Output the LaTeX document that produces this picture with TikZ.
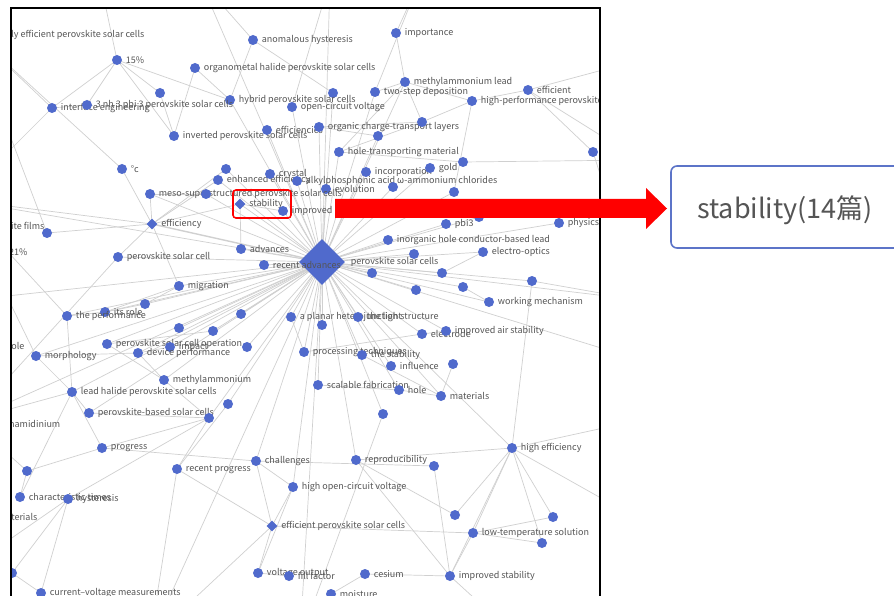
\documentclass[tikz,border=0pt]{standalone}
\usepackage{fontspec}
\setmainfont{Noto Sans CJK SC}
\usetikzlibrary{shapes.geometric}
\pgfdeclarelayer{bg}
\pgfsetlayers{bg,main}
\definecolor{nblue}{RGB}{80,106,204}
\definecolor{egray}{RGB}{208,208,208}
\definecolor{tgray}{RGB}{85,85,85}
\definecolor{bblue}{RGB}{92,116,200}
\tikzset{
 dot/.style={circle,fill=nblue,inner sep=0pt,minimum size=10pt},
 sdia/.style={diamond,fill=nblue,inner sep=0pt,minimum width=11pt,minimum height=11pt},
 lbl/.style={text=tgray,font=\fontsize{9}{10}\selectfont,inner sep=0.5pt},
 ed/.style={draw=egray,line width=0.7pt},
 boxst/.style={draw=bblue,line width=1.6pt,rounded corners=6pt,fill=white},
}
\newcommand{\nd}[4]{\node[dot,label={[lbl,label distance=3pt]right:{#4}}] (#1) at (#2,#3) {};}
\newcommand{\ud}[3]{\node[dot] (#1) at (#2,#3) {};}
\begin{document}
\begin{tikzpicture}[x=1pt,y=-1pt]
\useasboundingbox (0,0) rectangle (894,596);
\begin{scope}
\clip (12,8) rectangle (600,600);
% off-frame coordinates
\coordinate (o1) at (-30,30);
\coordinate (o2) at (-40,200);
\coordinate (o3) at (-30,420);
\coordinate (o4) at (640,60);
\coordinate (o5) at (640,300);
\coordinate (o6) at (640,420);
\coordinate (o7) at (200,-20);
\coordinate (o8) at (330,-20);
\coordinate (o9) at (420,-20);
\coordinate (o10) at (-20,560);
\coordinate (o11) at (300,640);
\coordinate (o12) at (150,640);
\coordinate (o13) at (640,520);
\coordinate (o14) at (520,640);
\coordinate (o15) at (640,160);
\coordinate (o16) at (-30,300);
\coordinate (o17) at (640,360);
\coordinate (o18) at (100,-20);
% hub
\node[diamond,fill=nblue,inner sep=0pt,minimum width=46pt,minimum height=46pt,
  label={[lbl,label distance=5pt]right:perovskite solar cells}] (P) at (322,262) {};
\node[dot,label={[lbl,label distance=3pt]right:recent advances}] (rad) at (264,265) {};
% small diamonds
\node[sdia,label={[lbl,label distance=3pt]right:stability}] (stab) at (240,204) {};
\node[sdia,label={[lbl,label distance=3pt]right:efficiency}] (eff) at (152,224) {};
\node[sdia,label={[lbl,label distance=3pt]right:efficient perovskite solar cells}] (eps) at (272,526) {};
% clipped text-only labels
\node[lbl,anchor=east] (t1) at (145,35) {highly efficient perovskite solar cells};
\node[lbl,anchor=east] (t2) at (45,227) {perovskite films};
\node[lbl,anchor=east] (t3) at (28,252) {21\%};
\node[lbl,anchor=east] (t4) at (25,346) {the role};
\node[lbl,anchor=east] (t5) at (61,424) {formamidinium};
\node[lbl,anchor=east] (t6) at (38,517) {materials};
% dots
\nd{p15}{117}{60}{15\%}
\nd{ahy}{253}{40}{anomalous hysteresis}
\nd{imp}{396}{33}{importance}
\nd{omh}{195}{68}{organometal halide perovskite solar cells}
\nd{mal}{405}{82}{methylammonium lead}
\nd{eft}{528}{90}{efficient}
\nd{tsd}{375}{92}{two-step deposition}
\ud{u1}{333}{93}
\nd{hps}{230}{100}{hybrid perovskite solar cells}
\nd{ocv}{292}{107}{open-circuit voltage}
\nd{hpp}{472}{101}{high-performance perovskite solar cells}
\ud{u2}{160}{93}
\nd{ieg}{52}{108}{interface engineering}
\nd{ch3}{87}{105}{3 nh 3 pbi 3 perovskite solar cells}
\nd{ips}{174}{136}{inverted perovskite solar cells}
\nd{effs}{267}{130}{efficiencies}
\nd{oct}{319}{127}{organic charge-transport layers}
\ud{u3}{422}{122}
\ud{u4}{378}{136}
\nd{htm}{339}{152}{hole-transporting material}
\ud{u5}{593}{152}
\nd{degc}{122}{169}{°c}
\ud{u6}{226}{169}
\nd{enh}{218}{180}{enhanced efficiency}
\nd{cry}{270}{174}{crystal}
\nd{alk}{297}{181}{alkylphosphonic acid ω-ammonium chlorides}
\nd{inc}{366}{172}{incorporation}
\nd{gold}{430}{168}{gold}
\ud{u7}{463}{162}
\nd{evo}{326}{189}{evolution}
\ud{u8}{393}{187}
\ud{u9}{454}{192}
\nd{meso}{150}{194}{meso-superstructured perovskite solar cells}
\ud{u10}{206}{194}
\nd{impd}{283}{211}{improved}
\nd{pbi}{446}{224}{pbi3}
\ud{u11}{479}{217}
\nd{phy}{559}{223}{physics}
\ud{pfd}{47}{233}
\nd{ihc}{388}{240}{inorganic hole conductor-based lead}
\nd{adv}{241}{249}{advances}
\nd{eo}{483}{252}{electro-optics}
\ud{u12}{414}{254}
\nd{psc1}{118}{257}{perovskite solar cell}
\ud{u13}{372}{273}
\ud{u14}{442}{273}
\ud{u15}{532}{281}
\nd{mig}{179}{286}{migration}
\ud{u16}{416}{290}
\ud{u17}{463}{287}
\nd{wm}{489}{302}{working mechanism}
\ud{u18}{145}{304}
\nd{its}{105}{312}{its role}
\nd{tpf}{67}{316}{the performance}
\ud{u19}{241}{314}
\nd{apl}{291}{317}{a planar heterojunction structure}
\nd{tli}{358}{317}{the light}
\ud{u20}{322}{325}
\ud{u21}{179}{328}
\ud{u22}{213}{331}
\nd{ele}{422}{334}{electrode}
\nd{ias}{446}{331}{improved air stability}
\nd{pso}{107}{344}{perovskite solar cell operation}
\nd{imc}{170}{347}{impact}
\ud{u23}{247}{347}
\nd{dp}{138}{353}{device performance}
\nd{mor}{36}{356}{morphology}
\nd{pt}{304}{352}{processing techniques}
\nd{tst}{362}{355}{the stability}
\nd{infl}{391}{366}{influence}
\ud{u24}{453}{364}
\nd{ma}{164}{380}{methylammonium}
\nd{sf}{318}{385}{scalable fabrication}
\nd{hole}{399}{390}{hole}
\nd{mat}{441}{396}{materials}
\nd{lhp}{72}{392}{lead halide perovskite solar cells}
\ud{u25}{228}{404}
\nd{pbs}{89}{413}{perovskite-based solar cells}
\ud{u26}{209}{418}
\ud{u27}{383}{414}
\nd{prog}{102}{448}{progress}
\nd{hef}{512}{448}{high efficiency}
\nd{chl}{256}{461}{challenges}
\nd{rep}{356}{460}{reproducibility}
\ud{u28}{434}{466}
\nd{rp}{177}{469}{recent progress}
\ud{u29}{27}{471}
\nd{hoc}{293}{487}{high open-circuit voltage}
\nd{cht}{20}{497}{characteristic times}
\nd{hys}{68}{499}{hysteresis}
\ud{u30}{455}{515}
\ud{u31}{553}{517}
\nd{lts}{473}{533}{low-temperature solution}
\ud{u32}{542}{543}
\nd{vo}{258}{573}{voltage output}
\nd{ff}{289}{576}{fill factor}
\nd{ces}{365}{574}{cesium}
\nd{ist}{450}{576}{improved stability}
\ud{u33}{12}{573}
\nd{cvm}{41}{593}{current–voltage measurements}
\nd{moi}{331}{594}{moisture}
\end{scope}
\begin{pgfonlayer}{bg}
\fill[white] (0,0) rectangle (894,596);
\clip (12,8) rectangle (600,600);
\foreach \b in {stab,impd,adv,rad,evo,cry,enh,alk,inc,htm,pbi,ihc,eo,u12,u13,u14,u15,u16,u17,wm,psc1,mig,tpf,its,u18,u19,apl,u20,u21,u22,pso,dp,imc,u23,ma,pt,tst,infl,sf,hole,mat,ele,ias,lhp,u25,u26,u27,chl,hoc,tsd,oct,effs,hps,u1,u4,u8,gold,u9,u11,phy,hef,mor,pbs,rep,o5,o2,o3,o7,o8,o11,o12,meso,u6,u10,mal,o16,o17,ocv,tli}
  \draw[ed] (P.center) -- (\b.center);
\draw[ed,line width=1.4pt] (P.center) -- (eff.center);
\foreach \a/\b in {p15/ieg,p15/ch3,p15/ips,p15/o18,p15/hps,ieg/o1,ieg/ch3,ieg/o2,ahy/hps,ahy/o7,ahy/u1,omh/ips,omh/hps,imp/mal,imp/o9,mal/tsd,mal/u3,mal/hpp,mal/htm,eft/hpp,eft/o4,eft/u5,eft/o15,hpp/u3,hpp/u9,oct/u3,oct/u4,u3/htm,u5/o5,degc/eff,degc/o1,meso/eff,meso/u10,eff/pfd,eff/o2,eff/psc1,eff/stab,eff/enh,eff/mig,eff/u6,stab/impd,stab/adv,psc1/o3,mig/u18,mig/its,tpf/its,tpf/lhp,tpf/o2,its/u18,mor/o2,mor/dp,mor/lhp,pso/u22,pso/ma,dp/imc,dp/ma,ma/u26,lhp/pbs,lhp/o3,lhp/cht,pbs/u26,u26/hys,u26/rp,prog/chl,prog/lhp,prog/u29,prog/u26,u29/cht,u29/o3,hys/u33,hys/cvm,hys/o10,cvm/u33,rp/eps,rp/o12,rp/u25,chl/eps,chl/hoc,chl/u28,eps/lts,eps/hoc,eps/vo,eps/o12,hoc/vo,vo/ff,rep/ist,rep/hef,rep/u30,u28/ist,hef/lts,hef/u31,hef/u32,hef/u30,hef/o6,hef/o13,hef/u15,hef/ist,lts/u31,lts/u32,lts/ist,ist/ces,ist/o14,ces/moi,moi/o11,sf/hole,hole/mat,mat/u24,tst/mat,wm/u17,u15/o5,eo/u14,ele/ias,ele/pt,u27/o11,apl/pt,pfd/o1,u7/htm,u7/o15,u2/p15,u2/ips,ocv/o8,tsd/o9}
  \draw[ed] (\a.center) -- (\b.center);
\end{pgfonlayer}
% frame
\draw[black,line width=2pt] (11,610) -- (11,8) -- (600,8) -- (600,610);
% highlight and callout
\draw[red,line width=1.6pt,rounded corners=3pt] (233,190) rectangle (291,218);
\fill[red] (335,199) -- (646,199) -- (646,188) -- (667,208.5) -- (646,229) -- (646,218) -- (335,218) -- cycle;
\draw[boxst] (671,166) rectangle (920,248);
\node[text=tgray,font=\fontsize{27}{30}\selectfont,inner sep=0pt] (info) at (785,210) {stability(14篇)};
\end{tikzpicture}
\end{document}
